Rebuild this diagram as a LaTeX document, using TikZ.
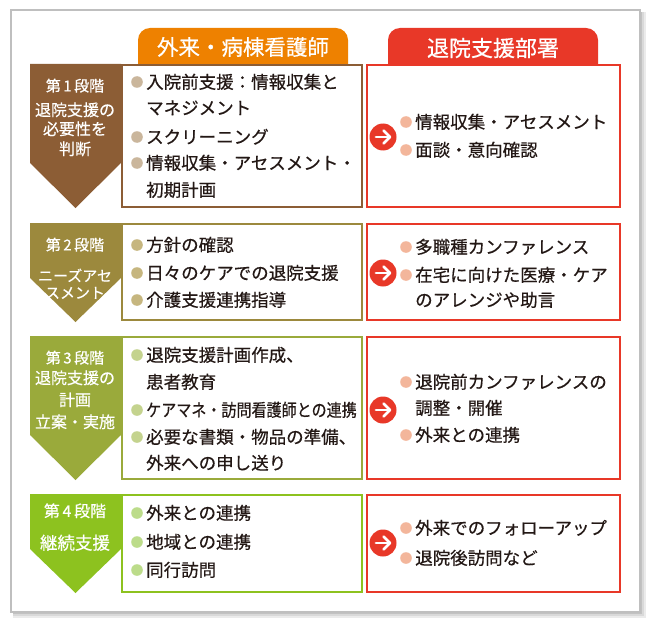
\documentclass[tikz,border=0pt]{standalone}
\usepackage{fontspec}
\setmainfont{Noto Sans CJK JP}[FakeBold=0.5]
\definecolor{txt}{HTML}{231815}
\definecolor{cone}{HTML}{8C5D35}
\definecolor{ctwo}{HTML}{9C893D}
\definecolor{cthree}{HTML}{9AAA3B}
\definecolor{cfour}{HTML}{8DC21F}
\definecolor{bone}{HTML}{CAB69C}
\definecolor{btwo}{HTML}{C6B67F}
\definecolor{bthree}{HTML}{C4D38E}
\definecolor{bfour}{HTML}{BCDC8A}
\definecolor{cred}{HTML}{E83828}
\definecolor{bred}{HTML}{F3B69B}
\definecolor{corange}{HTML}{EE8100}
\newcommand\mybul[3]{\fill[#1] (#2,#3) circle (5.8pt);}
\newcommand\mygo[3]{%
  \node[go] (#1) at (#2,#3) {};
  \draw[goarrow] ([xshift=-7pt]#1.center) -- ([xshift=7pt]#1.center);
  \draw[goarrow] ([xshift=0.5pt,yshift=6.5pt]#1.center) -- ([xshift=7pt]#1.center) -- ([xshift=0.5pt,yshift=-6.5pt]#1.center);}
\begin{document}
\begin{tikzpicture}[x=1pt,y=-1pt,
  li/.style={anchor=base west, inner sep=0pt, yshift=-6.5pt, text=txt, font=\fontsize{17.5}{20}\selectfont},
  lab/.style={anchor=base, inner sep=0pt, yshift=-5.9pt, text=white, font=\fontsize{16}{18}\selectfont},
  labs/.style={lab, yshift=-5.5pt, font=\fontsize{15}{17}\selectfont},
  labb/.style={lab, yshift=-6.5pt, font=\fontsize{17.5}{20}\selectfont},
  hd/.style={text=white, inner sep=0pt, font=\fontsize{21.5}{24}\selectfont},
  go/.style={circle, fill=cred, minimum size=27pt, inner sep=0pt},
  goarrow/.style={white, line width=2.8pt, line cap=round, line join=round},
  boxl/.style={line width=2pt},
]
\useasboundingbox (0,0) rectangle (650,623);
% frame with shadow
\fill[black!8] (13,12) rectangle (646,618);
\fill[black!15] (13,12) rectangle (644,616);
\fill[black!24] (13,12) rectangle (642,614);
\filldraw[fill=white, draw=black!25, line width=1.5pt] (11,10) rectangle (640,612);

% header tabs
\fill[corange] (138,64) [rounded corners=12pt] -- (138,28) -- (348,28) [sharp corners] -- (348,64) -- cycle;
\node[hd] (hleft) at (243,47) {外来・病棟看護師};
\fill[cred] (388,64) [rounded corners=12pt] -- (388,28) -- (598,28) [sharp corners] -- (598,64) -- cycle;
\node[hd, font=\fontsize{22}{24}\selectfont] (hright) at (493,48) {退院支援部署};

% ---------- stage 1
\fill[cone] (30,64) -- (121,64) -- (121,163) -- (75.5,208) -- (30,163) -- cycle;
\draw[cone, boxl] (122,65) rectangle (362,207);
\draw[cred, boxl] (367,65) rectangle (620,207);
\node[labs] (s1a) at (75,80) {第\,1\,段階};
\node[lab] (s1b) at (75,110) {退院支援の};
\node[lab] (s1c) at (75,129) {必要性を};
\node[lab] (s1d) at (75,149) {判断};
\mybul{bone}{137}{82}\mybul{bone}{137}{137}\mybul{bone}{137}{163}
\node[li] (l1a) at (146,82) {入院前支援：情報収集と};
\node[li] (l1b) at (146,108) {マネジメント};
\node[li] (l1c) at (146,137) {スクリーニング};
\node[li] (l1d) at (146,163) {情報収集・アセスメント・};
\node[li] (l1e) at (146,190) {初期計画};
\mygo{g1}{383}{137}
\mybul{bred}{406}{122}\mybul{bred}{406}{150}
\node[li] (r1a) at (415,122) {情報収集・アセスメント};
\node[li] (r1b) at (415,150) {面談・意向確認};

% ---------- stage 2
\fill[ctwo] (30,223) -- (121,223) -- (121,278) -- (75.5,322) -- (30,278) -- cycle;
\draw[ctwo, boxl] (122,224) rectangle (362,320);
\draw[cred, boxl] (367,224) rectangle (620,320);
\node[labs] (s2a) at (75,239) {第\,2\,段階};
\node[labs] (s2b) at (75,270) {ニーズアセ};
\node[labs] (s2c) at (75,287) {スメント};
\mybul{btwo}{137}{245}\mybul{btwo}{137}{273}\mybul{btwo}{137}{300}
\node[li] (l2a) at (146,245) {方針の確認};
\node[li] (l2b) at (146,273) {日々のケアでの退院支援};
\node[li] (l2c) at (146,300) {介護支援連携指導};
\mygo{g2}{383}{273}
\mybul{bred}{406}{247}\mybul{bred}{406}{275}
\node[li] (r2a) at (415,247) {多職種カンファレンス};
\node[li] (r2b) at (415,275) {在宅に向けた医療・ケア};
\node[li] (r2c) at (415,300) {のアレンジや助言};

% ---------- stage 3
\fill[cthree] (30,336) -- (121,336) -- (121,435) -- (75.5,480) -- (30,435) -- cycle;
\draw[cthree, boxl] (122,337) rectangle (362,479);
\draw[cred, boxl] (367,337) rectangle (620,479);
\node[labs] (s3a) at (75,352) {第\,3\,段階};
\node[lab] (s3b) at (75,378) {退院支援の};
\node[lab] (s3c) at (75,400) {計画};
\node[lab] (s3d) at (75,422) {立案・実施};
\mybul{bthree}{137}{355}\mybul{bthree}{137}{410}\mybul{bthree}{137}{437}
\node[li] (l3a) at (146,355) {退院支援計画作成、};
\node[li] (l3b) at (146,382) {患者教育};
\node[li] (l3c) at (146,410) {\scalebox{0.86}[1]{ケアマネ・訪問看護師との連携}};
\node[li] (l3d) at (146,437) {必要な書類・物品の準備、};
\node[li] (l3e) at (146,463) {外来への申し送り};
\mygo{g3}{383}{410}
\mybul{bred}{406}{382}\mybul{bred}{406}{435}
\node[li] (r3a) at (415,382) {退院前カンファレンスの};
\node[li] (r3b) at (415,408) {調整・開催};
\node[li] (r3c) at (415,435) {外来との連携};

% ---------- stage 4
\fill[cfour] (30,494) -- (121,494) -- (121,549) -- (75.5,593) -- (30,549) -- cycle;
\draw[cfour, boxl] (122,495) rectangle (362,592);
\draw[cred, boxl] (367,495) rectangle (620,592);
\node[lab] (s4a) at (75,511) {第\,4\,段階};
\node[labb] (s4b) at (75,537) {継続支援};
\mybul{bfour}{137}{513}\mybul{bfour}{137}{542}\mybul{bfour}{137}{570}
\node[li] (l4a) at (146,513) {外来との連携};
\node[li] (l4b) at (146,542) {地域との連携};
\node[li] (l4c) at (146,570) {同行訪問};
\mygo{g4}{383}{543}
\mybul{bred}{406}{528}\mybul{bred}{406}{558}
\node[li] (r4a) at (415,528) {外来でのフォローアップ};
\node[li] (r4b) at (415,558) {退院後訪問など};
\end{tikzpicture}
\end{document}
